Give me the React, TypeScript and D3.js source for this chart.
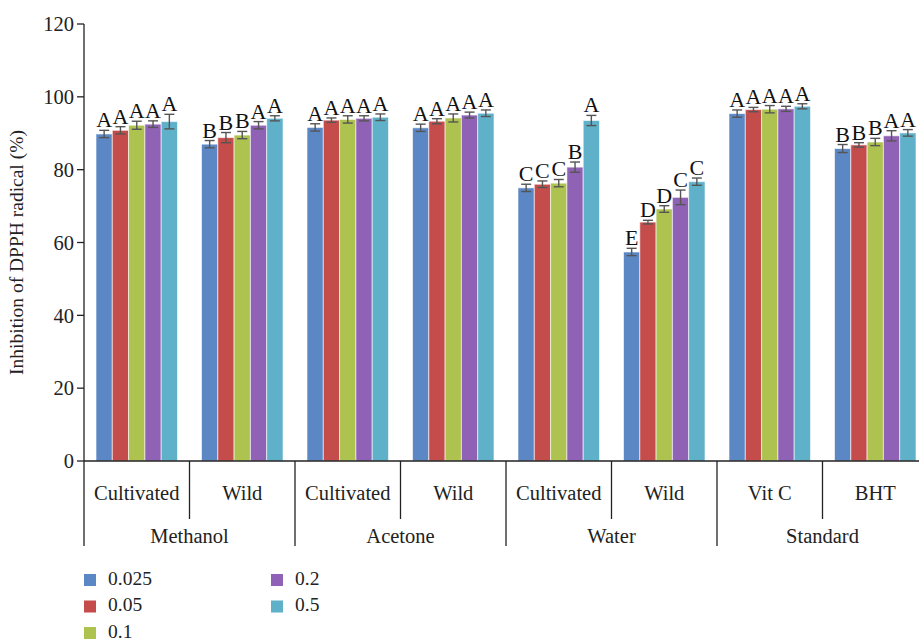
import React from "react";
import * as d3 from "d3";

const subgroups = ["Cultivated", "Wild", "Cultivated", "Wild", "Cultivated", "Wild", "Vit C", "BHT"];
const groups = ["Methanol", "Acetone", "Water", "Standard"];
const seriesNames = ["0.025", "0.05", "0.1", "0.2", "0.5"];
const colors = ["#5b87c5", "#c44d4b", "#adc24f", "#8f62b5", "#5fb0c9"];

const values = [
  [89.8, 90.8, 92.2, 92.5, 93.2],
  [87.0, 88.8, 89.5, 92.2, 94.1],
  [91.6, 93.6, 93.8, 94.1, 94.4],
  [91.5, 93.3, 94.2, 95.0, 95.5],
  [75.0, 76.0, 76.3, 80.7, 93.5],
  [57.4, 65.6, 69.2, 72.4, 76.7],
  [95.4, 96.5, 96.6, 96.7, 97.4],
  [85.8, 86.8, 87.6, 89.3, 90.1],
];
const errors = [
  [1.0, 1.0, 1.1, 0.9, 2.0],
  [1.0, 1.4, 1.0, 1.0, 0.7],
  [1.0, 0.6, 1.0, 0.7, 0.9],
  [1.0, 0.7, 1.1, 0.8, 0.9],
  [1.0, 0.9, 1.0, 1.4, 1.4],
  [1.0, 0.5, 0.9, 2.0, 1.0],
  [1.0, 0.6, 1.0, 0.7, 0.7],
  [1.1, 0.6, 1.0, 1.4, 0.9],
];
const letters = [
  ["A", "A", "A", "A", "A"],
  ["B", "B", "B", "A", "A"],
  ["A", "A", "A", "A", "A"],
  ["A", "A", "A", "A", "A"],
  ["C", "C", "C", "B", "A"],
  ["E", "D", "D", "C", "C"],
  ["A", "A", "A", "A", "A"],
  ["B", "B", "B", "A", "A"],
];
const yTicks = [0, 20, 40, 60, 80, 100, 120];

const W = 919, H = 641;
const left = 84, bottom = 461, top = 24;
const groupW = 105.5;
const font = "'Liberation Serif', 'Times New Roman', serif";

export default function App() {
  const y = d3.scaleLinear().domain([0, 120]).range([bottom, top]);
  const x0 = d3.scaleBand<number>().domain(d3.range(subgroups.length)).range([left, left + groupW * subgroups.length]).padding(0);
  const x1 = d3.scaleBand<number>().domain(d3.range(seriesNames.length)).range([12, 93.5]).padding(0);
  const bw = x1.bandwidth();

  return (
    <svg width={W} height={H} style={{ position: "absolute", left: 0, top: 0, background: "#fff" }} fontFamily={font}>
      {values.map((row, gi) =>
        row.map((v, si) => {
          const bx = (x0(gi) as number) + (x1(si) as number);
          return (
            <rect key={`b${gi}-${si}`} x={bx} y={y(v)} width={bw} height={bottom - y(v)}
              fill={colors[si]} stroke="#ffffff" strokeOpacity={0.6} strokeWidth={1} />
          );
        })
      )}
      {values.map((row, gi) =>
        row.map((v, si) => {
          const cx = (x0(gi) as number) + (x1(si) as number) + bw / 2;
          const e = errors[gi][si];
          const y1 = y(v + e), y2 = y(v - e);
          return (
            <g key={`e${gi}-${si}`} stroke="#555" strokeWidth={1.4}>
              <line x1={cx} x2={cx} y1={y1} y2={y2} />
              <line x1={cx - 5} x2={cx + 5} y1={y1} y2={y1} />
              <line x1={cx - 5} x2={cx + 5} y1={y2} y2={y2} />
            </g>
          );
        })
      )}
      {values.map((row, gi) =>
        row.map((v, si) => {
          const cx = (x0(gi) as number) + (x1(si) as number) + bw / 2;
          const e = errors[gi][si];
          return (
            <text key={`l${gi}-${si}`} x={cx} y={y(v + e) - 3} textAnchor="middle" fontSize={22} fill="#111">
              {letters[gi][si]}
            </text>
          );
        })
      )}
      <line x1={left} x2={left} y1={top} y2={bottom} stroke="#222" strokeWidth={1.3} />
      {yTicks.map((t) => (
        <g key={`t${t}`}>
          <line x1={left - 7} x2={left} y1={y(t)} y2={y(t)} stroke="#222" strokeWidth={1.3} />
          <text x={left - 10} y={y(t)} dy="0.35em" textAnchor="end" fontSize={20.5} fill="#222">{t}</text>
        </g>
      ))}
      <text transform={`translate(23,${(top + bottom) / 2 + 10}) rotate(-90)`} textAnchor="middle" fontSize={19.5} fill="#222">
        Inhibition of DPPH radical (%)
      </text>
      <line x1={left} x2={W} y1={bottom} y2={bottom} stroke="#222" strokeWidth={1.3} />
      {d3.range(subgroups.length + 1).map((i) => {
        const xx = left + groupW * i;
        const major = i % 2 === 0;
        return <line key={`v${i}`} x1={xx} x2={xx} y1={bottom} y2={major ? 546 : 519} stroke="#222" strokeWidth={1.3} />;
      })}
      {subgroups.map((s, i) => (
        <text key={`s${i}`} x={(x0(i) as number) + groupW / 2} y={500} textAnchor="middle" fontSize={20.5} fill="#222">{s}</text>
      ))}
      {groups.map((g, i) => (
        <text key={`g${i}`} x={left + groupW * (2 * i + 1)} y={543} textAnchor="middle" fontSize={20.5} fill="#222">{g}</text>
      ))}
      {seriesNames.map((s, i) => {
        const col = i < 3 ? 0 : 1;
        const row = i < 3 ? i : i - 3;
        const lx = col === 0 ? 84 : 271;
        const ly = 580 + row * 26.5;
        return (
          <g key={`lg${i}`}>
            <rect x={lx} y={ly - 6} width={12} height={12} fill={colors[i]} />
            <text x={lx + 24} y={ly + 4.5} fontSize={19.5} fill="#222">{s}</text>
          </g>
        );
      })}
    </svg>
  );
}
